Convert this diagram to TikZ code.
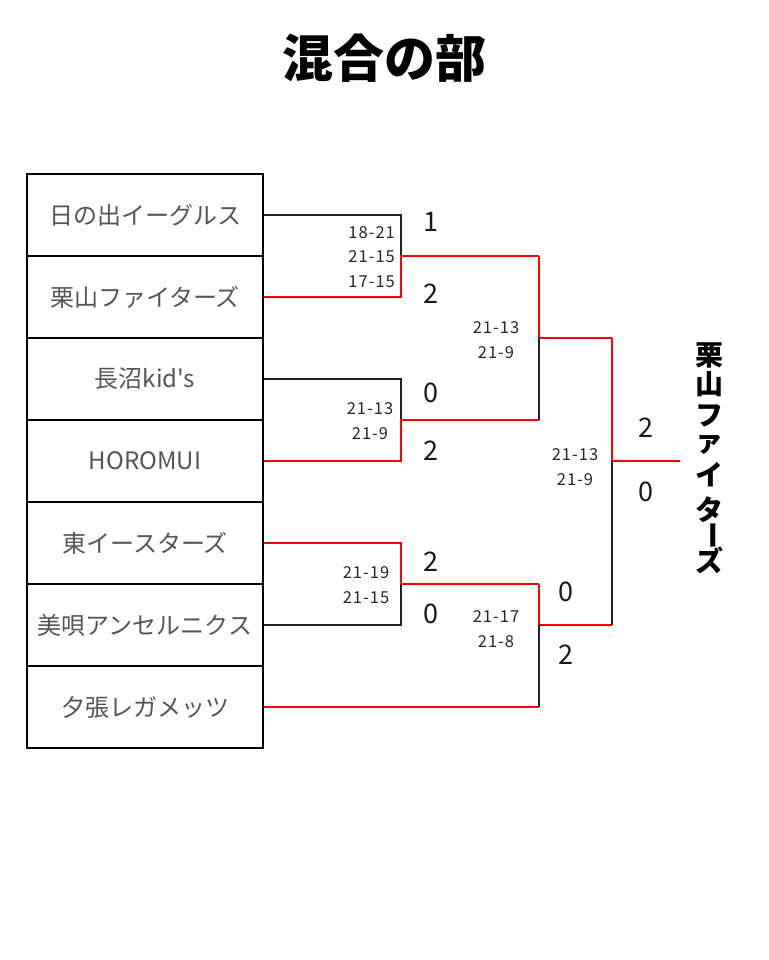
\documentclass[tikz,border=0pt]{standalone}
\usepackage{fontspec}
\newfontfamily\jp{Noto Sans CJK JP}
\definecolor{win}{HTML}{FF0000}
\definecolor{lose}{HTML}{222222}
\definecolor{teamtxt}{HTML}{555555}
\tikzset{
  teambox/.style={draw=black, line width=1.6pt, minimum width=236pt, minimum height=82pt, inner sep=0pt, font=\jp\fontsize{24}{24}\selectfont, text=teamtxt},
  wl/.style={draw=win, line width=1.6pt},
  ll/.style={draw=lose, line width=1.4pt},
  score/.style={font=\jp\addfontfeature{LetterSpace=6}\fontsize{16.5}{24.5}\selectfont, align=center, inner sep=0pt, text=black!85},
  games/.style={font=\jp\fontsize{27}{27}\selectfont, inner sep=0pt, text=black!90},
  vch/.style={font=\jp\bfseries\fontsize{28}{28}\selectfont, inner sep=0pt}
}
\begin{document}
\begin{tikzpicture}[x=1pt,y=-1pt]
\useasboundingbox (0,0) rectangle (768,960);
\node[font=\jp\bfseries\fontsize{51}{51}\selectfont] (title) at (384,58) {混合の部};
% team boxes
\node[teambox] (t1) at (145,215) {日の出イーグルス};
\node[teambox] (t2) at (145,297) {栗山ファイターズ};
\node[teambox] (t3) at (145,379) {長沼kid's};
\node[teambox] (t4) at (145,461) {HOROMUI};
\node[teambox] (t5) at (145,543) {東イースターズ};
\node[teambox] (t6) at (145,625) {美唄アンセルニクス};
\node[teambox] (t7) at (145,707) {夕張レガメッツ};
% bracket coordinates
\coordinate (a1) at (401,215); \coordinate (a2) at (401,297); \coordinate (m1) at (401,256);
\coordinate (a3) at (401,379); \coordinate (a4) at (401,461); \coordinate (m2) at (401,420);
\coordinate (a5) at (401,543); \coordinate (a6) at (401,625); \coordinate (m3) at (401,584);
\coordinate (b1) at (539,256); \coordinate (b2) at (539,420); \coordinate (s1) at (539,338);
\coordinate (b3) at (539,584); \coordinate (b4) at (539,707); \coordinate (s2) at (539,625);
\coordinate (c1) at (612,338); \coordinate (c2) at (612,625); \coordinate (f) at (612,461);
\coordinate (champ) at (680,461);
% round 1
\draw[ll] (t1.east |- a1) -- (a1) -- (m1);
\draw[wl] (t2.east |- a2) -- (a2) -- (m1) -- (b1);
\draw[ll] (t3.east |- a3) -- (a3) -- (m2);
\draw[wl] (t4.east |- a4) -- (a4) -- (m2) -- (b2);
\draw[wl] (t5.east |- a5) -- (a5) -- (m3) -- (b3);
\draw[ll] (t6.east |- a6) -- (a6) -- (m3);
% semis
\draw[wl] (b1) -- (s1) -- (c1);
\draw[ll] (b2) -- (s1);
\draw[wl] (b3) -- (s2) -- (c2);
\draw[wl] (t7.east |- b4) -- (b4);
\draw[ll] (b4) -- (s2);
% final
\draw[wl] (c1) -- (f) -- (champ);
\draw[ll] (c2) -- (f);
% scores
\node[score, align=right, anchor=east] (sc1) at (395,257) {18-21\\21-15\\17-15};
\node[score] (sc2) at (370,421) {21-13\\21-9};
\node[score] (sc3) at (366,585) {21-19\\21-15};
\node[score] (sc4) at (496,340) {21-13\\21-9};
\node[score] (sc5) at (496,629) {21-17\\21-8};
\node[score] (sc6) at (575,467) {21-13\\21-9};
% games
\node[games] (g1) at (431,222) {1};
\node[games] (g2) at (431,294) {2};
\node[games] (g3) at (431,393) {0};
\node[games] (g4) at (431,451) {2};
\node[games] (g5) at (431,562) {2};
\node[games] (g6) at (431,614) {0};
\node[games] (g7) at (566,592) {0};
\node[games] (g8) at (566,655) {2};
\node[games] (g9) at (646,428) {2};
\node[games] (g10) at (646,492) {0};
% champion vertical
\node[vch] (v1) at (709,355) {栗};
\node[vch] (v2) at (709,384) {山};
\node[vch] (v3) at (709,416) {フ};
\node[vch] (v4) at (709,445) {ァ};
\node[vch] (v5) at (709,475) {イ};
\node[vch] (v6) at (709,510) {タ};
\node[vch, rotate=-90] (v7) at (709,535) {ー};
\node[vch] (v8) at (709,560) {ズ};
\end{tikzpicture}
\end{document}
